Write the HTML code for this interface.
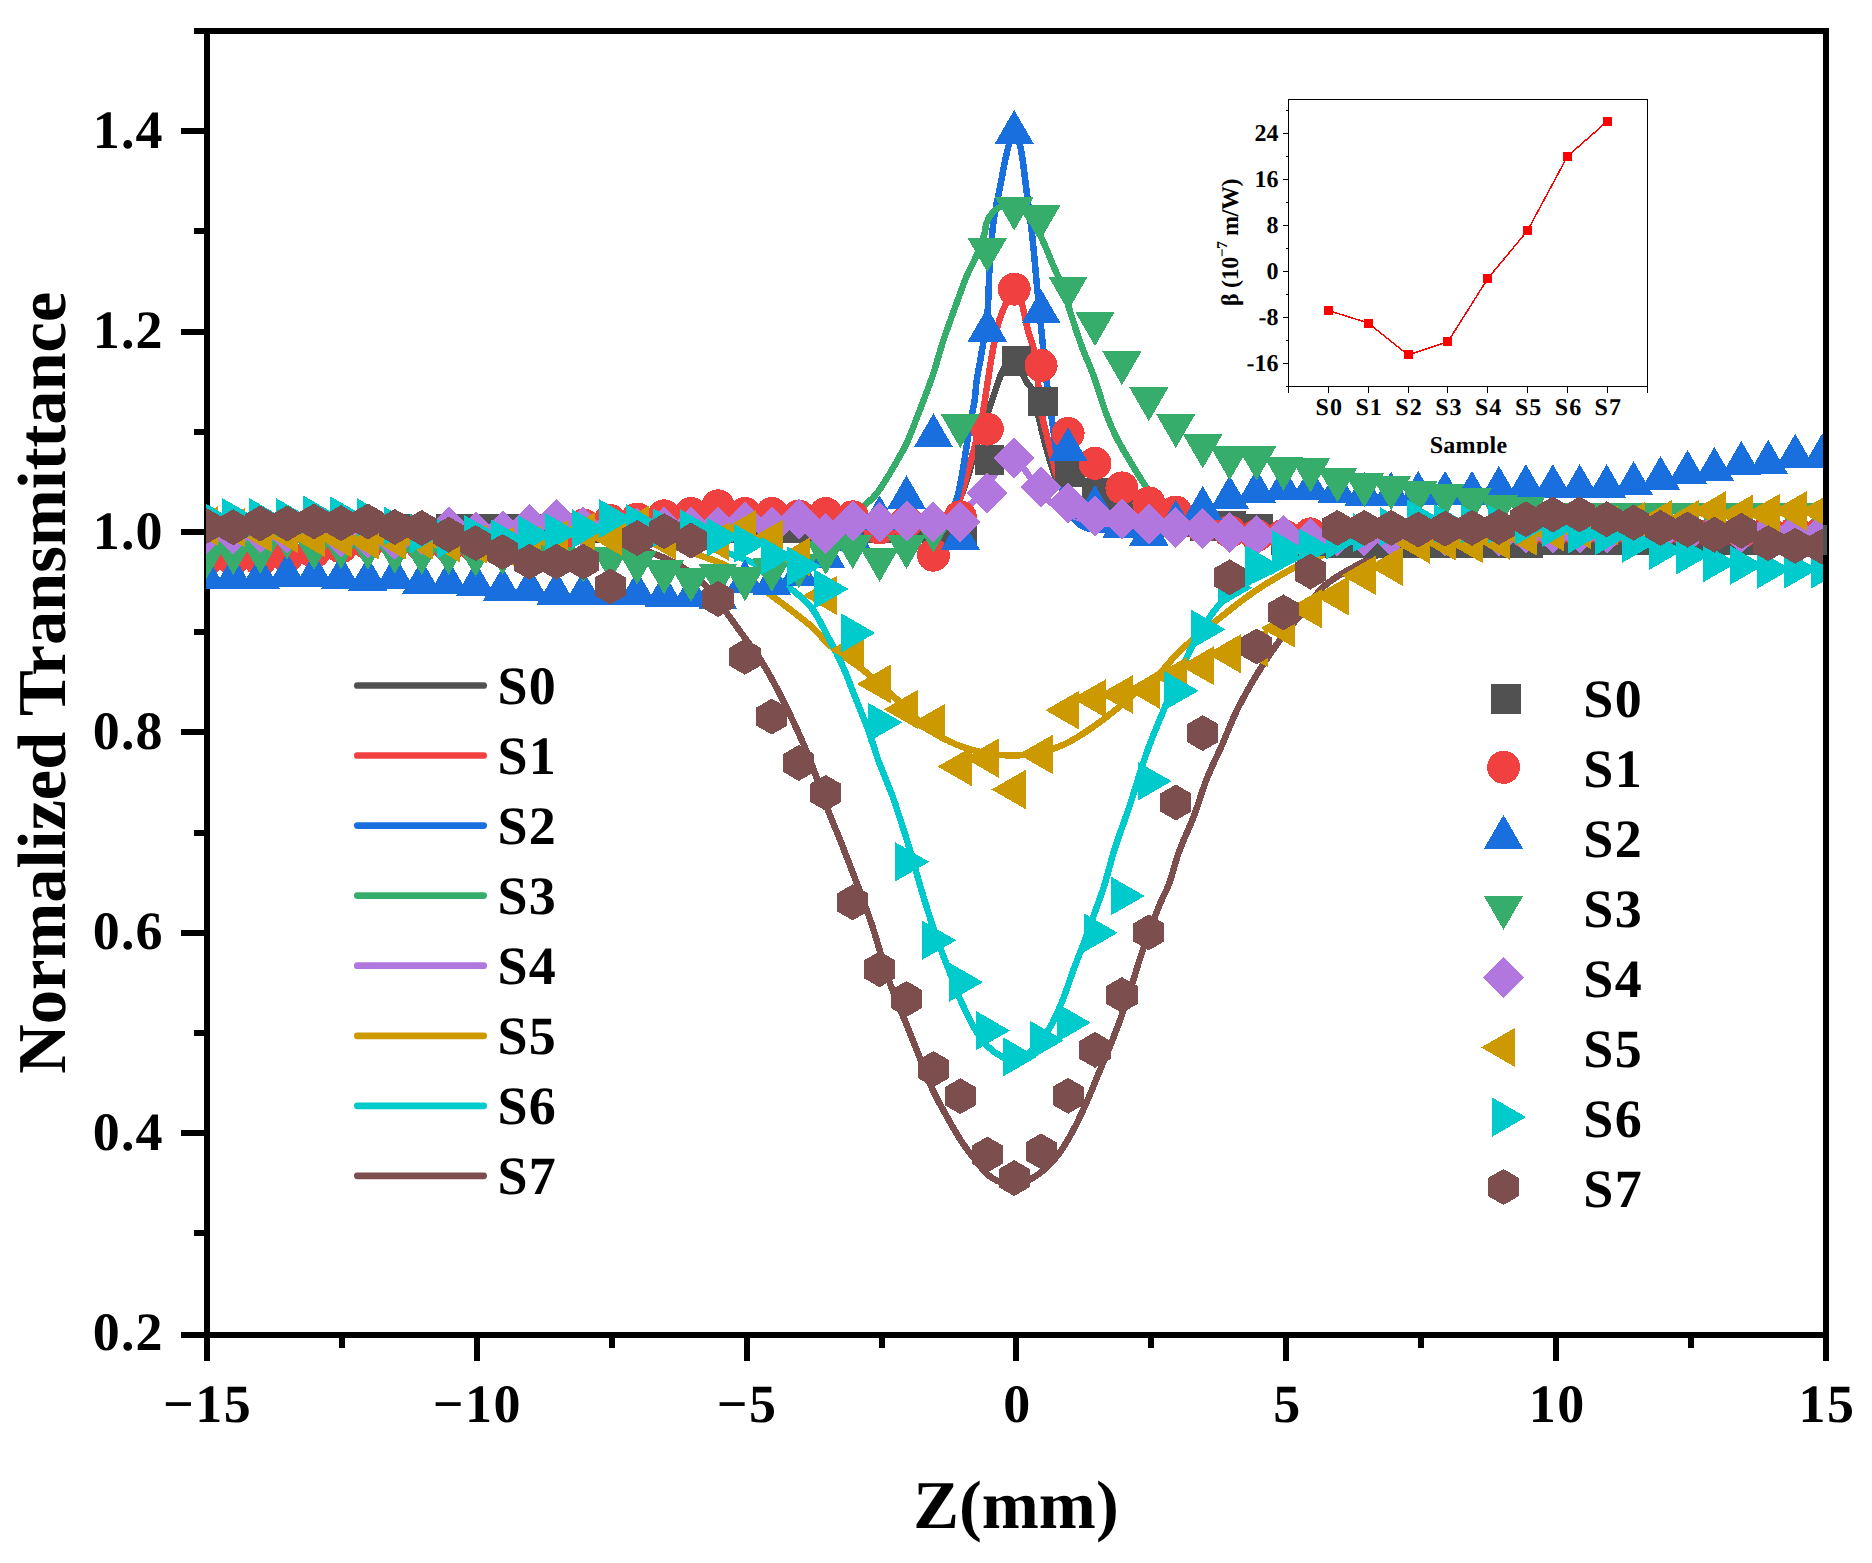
<!DOCTYPE html><html><head><meta charset="utf-8"><title>Z-scan</title>
<style>html,body{margin:0;padding:0;background:#fff}svg{display:block}text{font-family:"Liberation Serif","Times New Roman",serif;font-weight:bold;fill:#000}</style></head><body>
<svg width="1872" height="1563" viewBox="0 0 1872 1563" shape-rendering="crispEdges" text-rendering="geometricPrecision">
<rect width="1872" height="1563" fill="#fff"/>
<defs><clipPath id="cp"><rect x="205.9" y="31" width="1617" height="1304"/></clipPath><clipPath id="cs"><rect x="1400" y="425" width="140" height="28.6"/></clipPath></defs>
<g fill="#000" shape-rendering="crispEdges">
<rect x="203.5" y="28" width="6.5" height="1332.5"/>
<rect x="1823" y="28" width="6" height="1332.5"/>
<rect x="194" y="28" width="1635" height="6"/>
<rect x="181" y="1332" width="1648" height="6"/>
<rect x="194" y="1230.4" width="11" height="6"/>
<rect x="181" y="1130.2" width="24" height="6"/>
<rect x="194" y="1030.0" width="11" height="6"/>
<rect x="181" y="929.8" width="24" height="6"/>
<rect x="194" y="829.6" width="11" height="6"/>
<rect x="181" y="729.4" width="24" height="6"/>
<rect x="194" y="629.2" width="11" height="6"/>
<rect x="181" y="529.0" width="24" height="6"/>
<rect x="194" y="428.8" width="11" height="6"/>
<rect x="181" y="328.6" width="24" height="6"/>
<rect x="194" y="228.4" width="11" height="6"/>
<rect x="181" y="128.2" width="24" height="6"/>
<rect x="338.8" y="1335" width="6" height="12.8"/>
<rect x="473.7" y="1335" width="6" height="25.5"/>
<rect x="608.6" y="1335" width="6" height="12.8"/>
<rect x="743.5" y="1335" width="6" height="25.5"/>
<rect x="878.5" y="1335" width="6" height="12.8"/>
<rect x="1013.4" y="1335" width="6" height="25.5"/>
<rect x="1148.3" y="1335" width="6" height="12.8"/>
<rect x="1283.2" y="1335" width="6" height="25.5"/>
<rect x="1418.2" y="1335" width="6" height="12.8"/>
<rect x="1553.1" y="1335" width="6" height="25.5"/>
<rect x="1688.0" y="1335" width="6" height="12.8"/>
</g>
<g font-size="54" text-anchor="end" letter-spacing="1.1">
<text x="163.6" y="1350.1">0.2</text>
<text x="163.6" y="1149.7">0.4</text>
<text x="163.6" y="949.3">0.6</text>
<text x="163.6" y="748.9">0.8</text>
<text x="163.6" y="548.5">1.0</text>
<text x="163.6" y="348.1">1.2</text>
<text x="163.6" y="147.7">1.4</text>
</g>
<g font-size="54" text-anchor="middle" letter-spacing="1.5">
<text x="207.6" y="1421.8">−15</text>
<text x="477.4" y="1421.8">−10</text>
<text x="747.2" y="1421.8">−5</text>
<text x="1017.6" y="1421.8">0</text>
<text x="1287.5" y="1421.8">5</text>
<text x="1557.3" y="1421.8">10</text>
<text x="1827.1" y="1421.8">15</text>
</g>
<text font-size="68.5" text-anchor="middle" x="1016" y="1528" textLength="205.5" lengthAdjust="spacing">Z(mm)</text>
<text font-size="68.5" text-anchor="middle" transform="translate(65.3 682.7) rotate(-90)" textLength="782" lengthAdjust="spacing">Normalized Transmittance</text>
<g clip-path="url(#cp)">
<g fill="none" stroke-width="6.5" stroke-linejoin="round" stroke-linecap="round" shape-rendering="crispEdges">
<path stroke="#515151" d="M206.0 528.5C437.3 528.5 668.7 529.0 900.0 528.5C913.3 528.5 927.7 530.0 940.0 527.0C945.0 525.8 948.9 520.3 952.0 516.0C955.5 511.2 957.4 505.3 959.7 499.7C962.8 491.9 965.7 484.0 968.2 476.0C971.4 465.4 973.5 454.5 976.8 444.0C980.6 431.8 985.4 419.9 989.6 407.8C991.8 401.4 993.8 394.9 996.0 388.5C998.0 382.8 999.7 376.8 1002.4 371.4C1004.1 368.0 1006.2 364.3 1009.0 362.0C1010.8 360.5 1014.5 358.8 1016.0 360.0C1018.7 362.2 1019.7 368.0 1021.6 372.0C1023.0 375.0 1024.3 378.1 1026.0 381.0C1027.9 384.1 1031.1 386.6 1032.3 390.0C1035.3 398.6 1036.6 408.0 1038.7 417.0C1040.8 426.0 1042.7 435.1 1045.1 444.0C1047.0 451.2 1049.1 458.4 1051.5 465.5C1053.4 471.1 1054.6 477.3 1058.0 482.0C1064.1 490.5 1071.6 498.8 1080.0 505.0C1088.9 511.5 1099.4 516.7 1110.0 520.0C1122.8 524.0 1136.5 526.0 1150.0 527.0C1199.9 530.7 1250.0 531.2 1300.0 534.0C1333.4 535.9 1366.6 540.6 1400.0 541.0C1541.9 542.6 1684.0 540.3 1826.0 540.0"/>
<path stroke="#F14040" d="M206.0 528.0C437.3 528.0 668.7 528.6 900.0 528.0C913.3 528.0 927.7 529.1 940.0 526.0C945.0 524.7 948.8 519.3 952.0 515.0C955.5 510.3 958.0 504.6 960.0 499.0C963.4 489.6 965.6 479.7 968.2 470.0C972.6 454.0 977.4 438.1 981.0 422.0C983.8 409.5 985.3 396.7 987.4 384.0C988.9 374.8 990.1 365.6 991.7 356.4C993.6 345.7 995.4 334.9 998.1 324.4C999.5 318.8 1001.8 313.4 1004.0 308.0C1005.4 304.6 1006.9 301.2 1008.8 298.0C1010.5 295.2 1012.9 289.3 1014.6 290.0C1017.2 291.0 1020.1 298.4 1021.6 303.0C1024.5 312.0 1025.6 321.6 1028.0 330.8C1029.9 337.9 1033.1 344.8 1034.4 352.0C1036.6 364.0 1037.2 376.3 1038.7 388.5C1040.0 399.2 1041.2 409.9 1043.0 420.5C1043.7 424.6 1045.2 428.6 1046.2 432.7C1048.0 440.1 1049.6 447.5 1051.5 454.8C1054.2 464.9 1055.8 475.5 1060.0 485.0C1063.7 493.3 1068.4 502.1 1075.0 508.0C1081.8 514.1 1091.0 518.7 1100.0 521.0C1116.0 525.1 1133.2 526.8 1150.0 527.0C1375.2 529.5 1600.7 528.3 1826.0 529.0"/>
<path stroke="#1A6FDF" d="M206.0 528.0C437.3 528.0 668.7 528.6 900.0 528.0C913.3 528.0 927.8 529.2 940.0 526.0C944.5 524.8 947.4 519.1 950.0 515.0C952.9 510.4 954.9 505.0 956.5 499.7C958.8 492.0 960.4 484.1 961.8 476.2C965.0 458.4 967.3 440.5 970.3 422.7C971.6 415.3 973.5 407.9 974.6 400.5C975.6 393.7 975.8 386.8 976.8 380.0C977.9 372.1 979.7 364.3 981.0 356.4C983.3 342.2 986.0 328.0 987.4 313.7C988.9 298.1 988.5 282.3 989.6 266.7C990.7 251.0 991.7 235.3 993.8 219.7C995.3 208.2 998.1 196.9 1000.3 185.5C1002.4 174.8 1004.3 164.0 1006.7 153.4C1007.9 148.2 1009.1 142.9 1011.0 138.0C1011.7 136.1 1013.4 133.0 1014.6 133.0C1015.8 133.0 1017.4 136.1 1018.0 138.0C1019.7 142.9 1020.7 148.2 1021.6 153.4C1023.4 164.0 1024.5 174.8 1025.9 185.5C1028.1 202.6 1030.4 219.7 1032.3 236.8C1034.3 255.3 1035.8 273.8 1037.6 292.3C1039.0 306.5 1040.5 320.8 1041.9 335.0C1043.3 349.3 1044.6 363.6 1046.2 377.8C1047.4 388.7 1049.0 399.6 1050.5 410.5C1051.5 417.9 1052.7 425.3 1053.7 432.7C1055.2 443.6 1056.2 454.6 1058.0 465.5C1059.6 475.4 1061.0 485.5 1064.0 495.0C1066.7 503.6 1069.7 513.1 1075.0 520.0C1078.4 524.4 1084.5 527.9 1090.0 529.0C1099.5 530.9 1110.0 529.1 1120.0 529.0C1146.7 528.8 1173.3 528.0 1200.0 528.0C1408.7 527.7 1617.3 528.0 1826.0 528.0"/>
<path stroke="#37AD6B" d="M206.0 531.0C370.7 531.0 535.3 531.8 700.0 531.0C733.3 530.8 766.8 530.6 800.0 528.0C813.5 526.9 827.3 524.4 840.0 520.0C848.5 517.1 856.3 511.4 863.5 506.0C869.1 501.8 874.5 496.8 878.5 491.1C888.0 477.6 896.0 462.9 904.1 448.4C906.7 443.8 908.6 438.9 910.5 434.0C917.8 415.4 925.3 396.7 931.9 377.8C936.3 365.4 939.3 352.5 943.5 340.0C948.2 326.0 953.4 312.1 958.4 298.2C961.0 291.0 963.5 283.7 966.5 276.6C969.1 270.3 972.7 264.5 975.3 258.2C978.7 250.1 981.9 241.9 984.5 233.6C985.6 230.2 985.2 226.2 986.5 222.9C988.0 219.0 990.2 215.0 993.0 212.0C995.5 209.3 999.0 207.3 1002.4 205.8C1006.2 204.1 1011.1 201.5 1014.6 202.6C1018.9 204.0 1022.8 209.1 1025.9 213.2C1031.5 220.5 1036.6 228.6 1040.9 236.8C1045.9 246.4 1049.4 256.8 1053.7 266.7C1056.5 273.1 1059.8 279.3 1062.2 285.9C1065.5 295.0 1067.8 304.5 1070.8 313.7C1074.3 324.4 1077.6 335.1 1081.5 345.7C1085.5 356.5 1090.4 367.0 1094.3 377.8C1098.9 390.5 1102.3 403.6 1107.1 416.2C1110.2 424.3 1113.7 432.3 1117.8 440.0C1124.3 452.3 1131.7 464.2 1139.0 476.0C1142.4 481.5 1145.9 487.0 1150.0 492.0C1154.6 497.7 1159.1 503.9 1165.0 508.0C1172.4 513.2 1181.2 517.4 1190.0 520.0C1202.9 523.8 1216.5 525.8 1230.0 527.0C1253.2 529.1 1276.6 529.8 1300.0 530.0C1475.3 531.2 1650.7 530.7 1826.0 531.0"/>
<path stroke="#B177DE" d="M206.0 531.0C370.7 531.0 535.3 531.2 700.0 531.0C726.7 531.0 753.3 530.5 780.0 530.1C796.7 529.9 813.3 529.7 830.0 529.3C843.3 529.0 856.7 528.6 870.0 528.0C880.0 527.5 890.0 526.9 900.0 526.0C906.7 525.4 913.4 524.6 920.0 523.6C925.0 522.8 930.1 521.9 935.0 520.7C940.1 519.4 945.1 518.0 950.0 516.1C954.1 514.4 958.2 512.5 962.0 510.1C966.2 507.5 970.3 504.4 974.0 501.0C977.7 497.6 980.9 493.7 984.0 489.8C987.6 485.3 990.6 480.4 994.0 475.7C996.6 472.1 999.0 468.1 1002.0 464.9C1004.0 462.7 1006.4 460.5 1009.0 459.4C1010.6 458.8 1012.8 459.0 1014.4 459.6C1016.5 460.4 1018.4 462.1 1020.0 463.8C1022.6 466.5 1024.8 469.7 1027.0 472.8C1029.8 476.6 1032.2 480.6 1035.0 484.4C1038.2 488.7 1041.4 493.0 1045.0 496.9C1048.1 500.2 1051.4 503.3 1055.0 506.0C1058.7 508.8 1062.8 511.3 1067.0 513.4C1070.8 515.3 1074.9 516.9 1079.0 518.2C1083.9 519.8 1089.0 521.0 1094.0 522.0C1099.0 523.1 1104.0 523.8 1109.0 524.4C1115.6 525.3 1122.3 526.0 1129.0 526.5C1139.0 527.3 1149.0 527.8 1159.0 528.2C1172.3 528.8 1185.7 529.2 1199.0 529.4C1215.7 529.8 1232.3 530.0 1249.0 530.2C1299.3 530.7 1349.7 531.4 1400.0 531.5C1542.0 531.8 1684.0 531.5 1826.0 531.5"/>
<path stroke="#CC9900" d="M206.0 531.0C304.0 531.3 402.0 530.8 500.0 532.0C533.4 532.4 566.7 533.7 600.0 536.0C620.1 537.4 640.3 539.3 660.0 543.0C672.6 545.4 684.7 550.0 696.8 554.3C708.3 558.4 720.2 562.1 730.9 568.0C745.5 576.1 758.8 586.7 772.5 596.3C778.3 600.4 784.0 604.7 789.6 609.1C796.8 614.7 804.2 620.1 811.0 626.2C818.5 632.9 824.6 641.1 832.3 647.6C842.4 656.1 854.1 662.8 864.4 671.1C875.4 679.9 886.0 689.4 896.4 698.9C903.8 705.7 910.0 713.8 917.8 720.0C927.8 728.0 938.4 735.9 949.8 741.6C959.8 746.6 970.9 749.9 981.9 752.3C992.3 754.6 1003.3 755.5 1014.0 755.5C1022.7 755.5 1031.5 754.2 1040.0 752.3C1048.7 750.3 1057.5 747.7 1065.6 743.8C1075.3 739.1 1084.5 732.9 1093.4 726.7C1103.0 720.1 1112.2 712.7 1121.2 705.3C1128.6 699.2 1135.2 692.1 1142.6 686.0C1148.1 681.4 1154.5 678.0 1159.7 673.2C1165.9 667.4 1170.8 660.2 1176.8 654.0C1180.8 649.9 1185.2 646.0 1189.6 642.3C1198.7 634.6 1208.0 627.2 1217.4 619.8C1229.4 610.4 1241.1 600.6 1253.7 592.0C1266.8 583.1 1280.4 575.0 1294.3 567.5C1303.4 562.6 1312.9 558.3 1322.6 555.0C1334.8 550.8 1347.3 547.3 1360.0 545.0C1379.8 541.3 1399.9 538.7 1420.0 537.0C1446.6 534.7 1473.3 533.5 1500.0 533.0C1608.6 531.1 1717.3 531.0 1826.0 530.0"/>
<path stroke="#00CBCC" d="M206.0 530.0C304.0 530.3 402.0 529.6 500.0 531.0C546.7 531.6 593.5 532.7 640.0 536.0C660.1 537.4 680.5 540.1 700.0 545.0C720.5 550.1 741.1 557.0 760.0 566.0C770.9 571.2 780.1 580.1 789.6 587.8C797.0 593.8 805.1 599.6 810.9 607.0C817.9 615.9 822.6 626.8 828.0 636.9C833.3 646.7 838.4 656.6 843.0 666.8C847.7 677.3 851.5 688.2 855.8 698.9C860.1 709.6 864.6 720.1 868.6 730.9C872.5 741.5 875.4 752.4 879.3 763.0C883.3 773.8 888.1 784.2 892.1 795.0C896.0 805.6 899.3 816.4 902.8 827.1C905.8 836.3 908.6 845.6 911.4 854.9C913.9 863.2 916.0 871.7 918.5 880.0C921.6 890.7 924.8 901.4 928.2 912.0C931.6 922.7 935.1 933.5 938.9 944.1C942.2 953.5 946.0 962.7 949.6 972.0C953.2 981.2 956.3 990.7 960.3 999.7C964.8 1009.9 969.6 1020.0 975.2 1029.6C978.8 1035.7 983.0 1041.7 988.0 1046.7C992.3 1051.0 997.6 1054.6 1003.0 1057.4C1006.4 1059.2 1010.6 1060.7 1014.3 1060.6C1017.9 1060.5 1022.0 1059.0 1025.0 1057.0C1028.9 1054.4 1031.9 1050.4 1035.0 1046.7C1040.2 1040.5 1045.9 1034.4 1050.0 1027.4C1055.1 1018.7 1059.0 1009.1 1062.8 999.7C1066.8 989.9 1069.8 979.7 1073.5 969.7C1076.9 960.4 1080.8 951.3 1084.2 942.0C1087.9 932.0 1091.3 922.0 1094.9 912.0C1097.9 903.5 1101.3 895.0 1104.0 886.4C1107.9 873.9 1110.8 861.0 1114.8 848.5C1119.4 834.1 1124.9 820.0 1129.7 805.7C1135.6 788.0 1140.5 769.9 1146.8 752.3C1151.9 737.9 1158.0 723.7 1163.9 709.6C1170.8 693.1 1177.6 676.5 1185.3 660.4C1190.5 649.5 1196.0 638.6 1202.4 628.4C1208.1 619.2 1214.2 609.9 1221.6 602.0C1227.8 595.4 1235.3 589.8 1243.0 585.0C1251.9 579.5 1261.9 575.8 1271.3 571.0C1280.4 566.4 1289.1 560.4 1298.6 556.8C1312.0 551.7 1326.0 547.7 1340.0 545.0C1359.8 541.1 1379.9 538.8 1400.0 537.0C1433.2 534.1 1466.6 531.6 1500.0 531.0C1608.6 529.0 1717.3 529.7 1826.0 529.0"/>
<path stroke="#7D4E4E" d="M206.0 528.0C270.7 528.2 335.3 528.1 400.0 528.5C433.3 528.7 466.7 528.1 500.0 530.0C533.4 531.9 567.0 534.6 600.0 540.0C620.4 543.3 641.0 548.4 660.0 556.0C674.3 561.7 688.3 570.1 700.0 580.0C710.1 588.6 717.2 600.7 725.5 611.3C731.4 618.9 736.9 627.0 742.6 634.8C748.3 642.6 754.5 650.2 759.7 658.3C765.9 668.0 771.4 678.1 776.8 688.2C781.3 696.6 785.5 705.2 789.6 713.8C794.0 723.0 798.4 732.2 802.4 741.6C806.9 752.2 811.2 762.9 815.2 773.7C819.7 785.7 823.5 798.0 828.0 810.0C832.0 820.8 836.7 831.3 840.9 842.0C845.2 853.0 849.5 864.0 853.7 875.0C855.9 880.7 858.0 886.3 860.1 892.0C864.3 903.6 868.8 915.2 872.6 927.0C878.6 945.4 883.3 964.3 889.7 982.6C894.7 997.1 901.1 1011.1 906.8 1025.3C911.1 1036.0 915.4 1046.7 919.7 1057.4C924.0 1068.1 927.7 1079.0 932.5 1089.4C937.6 1100.4 943.7 1110.9 949.6 1121.5C953.6 1128.7 957.8 1135.9 962.4 1142.8C966.3 1148.7 970.8 1154.3 975.2 1159.9C979.3 1165.0 983.1 1170.6 988.0 1174.9C991.7 1178.1 996.3 1180.5 1000.9 1182.4C1005.1 1184.1 1009.9 1186.1 1014.3 1185.6C1019.9 1185.0 1025.6 1181.9 1030.8 1179.1C1036.1 1176.2 1041.3 1172.6 1045.7 1168.5C1051.2 1163.4 1056.4 1157.6 1060.7 1151.4C1066.3 1143.3 1071.0 1134.5 1075.6 1125.7C1080.3 1116.7 1084.4 1107.3 1088.5 1098.0C1092.2 1089.5 1095.5 1080.9 1099.1 1072.3C1102.6 1063.8 1106.4 1055.3 1109.8 1046.7C1113.5 1037.5 1117.2 1028.2 1120.5 1018.9C1124.3 1008.3 1127.7 997.5 1131.2 986.8C1134.9 975.4 1138.1 963.9 1141.9 952.6C1145.3 942.6 1148.9 932.6 1152.6 922.7C1155.3 915.6 1158.0 908.4 1161.0 901.4C1163.5 895.5 1166.8 890.0 1169.0 884.0C1172.8 873.5 1175.1 862.5 1178.9 852.0C1183.3 839.9 1189.2 828.4 1193.8 816.4C1198.5 804.1 1201.9 791.3 1206.7 779.0C1211.1 767.8 1216.7 757.0 1221.6 745.9C1226.7 734.3 1231.1 722.4 1236.6 711.0C1241.8 700.3 1247.7 689.9 1253.7 679.7C1259.1 670.6 1264.9 661.7 1270.8 653.0C1275.5 646.0 1280.5 639.2 1285.7 632.6C1292.6 623.9 1300.1 615.6 1307.1 607.0C1311.8 601.2 1315.7 594.6 1320.9 589.2C1325.0 584.9 1330.0 581.3 1335.0 578.0C1342.0 573.4 1349.4 569.4 1356.8 565.3C1361.5 562.7 1366.3 560.2 1371.2 558.0C1377.7 555.1 1384.2 552.0 1391.0 549.9C1403.8 546.0 1416.8 542.0 1430.0 540.0C1453.1 536.4 1476.6 534.4 1500.0 533.0C1533.3 531.0 1566.7 530.5 1600.0 530.0C1675.3 528.8 1750.7 528.7 1826.0 528.0"/>
</g>
<g fill="#515151">
<rect x="193.6" y="513.8" width="29.5" height="29.5"/>
<rect x="220.5" y="513.8" width="29.5" height="29.5"/>
<rect x="247.4" y="513.8" width="29.5" height="29.5"/>
<rect x="274.3" y="513.8" width="29.5" height="29.5"/>
<rect x="301.3" y="513.8" width="29.5" height="29.5"/>
<rect x="328.2" y="513.8" width="29.5" height="29.5"/>
<rect x="355.1" y="513.8" width="29.5" height="29.5"/>
<rect x="382.1" y="513.8" width="29.5" height="29.5"/>
<rect x="409.0" y="520.2" width="29.5" height="29.5"/>
<rect x="435.9" y="513.8" width="29.5" height="29.5"/>
<rect x="462.9" y="513.8" width="29.5" height="29.5"/>
<rect x="489.8" y="513.8" width="29.5" height="29.5"/>
<rect x="516.7" y="513.8" width="29.5" height="29.5"/>
<rect x="543.6" y="513.8" width="29.5" height="29.5"/>
<rect x="570.6" y="513.8" width="29.5" height="29.5"/>
<rect x="597.5" y="513.8" width="29.5" height="29.5"/>
<rect x="624.4" y="513.8" width="29.5" height="29.5"/>
<rect x="651.4" y="513.8" width="29.5" height="29.5"/>
<rect x="678.3" y="513.8" width="29.5" height="29.5"/>
<rect x="705.2" y="513.8" width="29.5" height="29.5"/>
<rect x="732.2" y="513.8" width="29.5" height="29.5"/>
<rect x="759.1" y="513.8" width="29.5" height="29.5"/>
<rect x="786.0" y="513.8" width="29.5" height="29.5"/>
<rect x="812.9" y="513.8" width="29.5" height="29.5"/>
<rect x="839.9" y="513.8" width="29.5" height="29.5"/>
<rect x="866.8" y="513.8" width="29.5" height="29.5"/>
<rect x="893.7" y="513.8" width="29.5" height="29.5"/>
<rect x="920.7" y="513.8" width="29.5" height="29.5"/>
<rect x="947.6" y="514.9" width="29.5" height="29.5"/>
<rect x="974.5" y="445.4" width="29.5" height="29.5"/>
<rect x="1001.5" y="346.4" width="29.5" height="29.5"/>
<rect x="1028.4" y="386.8" width="29.5" height="29.5"/>
<rect x="1055.3" y="457.1" width="29.5" height="29.5"/>
<rect x="1082.2" y="478.4" width="29.5" height="29.5"/>
<rect x="1109.2" y="495.2" width="29.5" height="29.5"/>
<rect x="1136.1" y="503.2" width="29.5" height="29.5"/>
<rect x="1163.0" y="507.2" width="29.5" height="29.5"/>
<rect x="1190.0" y="511.6" width="29.5" height="29.5"/>
<rect x="1216.9" y="511.0" width="29.5" height="29.5"/>
<rect x="1243.8" y="514.2" width="29.5" height="29.5"/>
<rect x="1270.8" y="525.2" width="29.5" height="29.5"/>
<rect x="1297.7" y="526.8" width="29.5" height="29.5"/>
<rect x="1324.6" y="528.8" width="29.5" height="29.5"/>
<rect x="1351.5" y="528.8" width="29.5" height="29.5"/>
<rect x="1378.5" y="528.8" width="29.5" height="29.5"/>
<rect x="1405.4" y="528.8" width="29.5" height="29.5"/>
<rect x="1432.3" y="528.8" width="29.5" height="29.5"/>
<rect x="1459.3" y="528.8" width="29.5" height="29.5"/>
<rect x="1486.2" y="528.8" width="29.5" height="29.5"/>
<rect x="1513.1" y="528.8" width="29.5" height="29.5"/>
<rect x="1540.1" y="525.2" width="29.5" height="29.5"/>
<rect x="1567.0" y="525.2" width="29.5" height="29.5"/>
<rect x="1593.9" y="525.2" width="29.5" height="29.5"/>
<rect x="1620.8" y="525.2" width="29.5" height="29.5"/>
<rect x="1647.8" y="525.2" width="29.5" height="29.5"/>
<rect x="1674.7" y="525.2" width="29.5" height="29.5"/>
<rect x="1701.6" y="525.2" width="29.5" height="29.5"/>
<rect x="1728.6" y="525.2" width="29.5" height="29.5"/>
<rect x="1755.5" y="525.2" width="29.5" height="29.5"/>
<rect x="1782.4" y="525.2" width="29.5" height="29.5"/>
<rect x="1809.3" y="525.2" width="29.5" height="29.5"/>
</g>
<g fill="#F14040">
<circle cx="206.3" cy="560.0" r="16.5"/>
<circle cx="233.2" cy="559.5" r="16.5"/>
<circle cx="260.2" cy="560.0" r="16.5"/>
<circle cx="287.1" cy="556.0" r="16.5"/>
<circle cx="314.0" cy="552.0" r="16.5"/>
<circle cx="341.0" cy="547.0" r="16.5"/>
<circle cx="367.9" cy="543.0" r="16.5"/>
<circle cx="394.8" cy="541.0" r="16.5"/>
<circle cx="421.7" cy="545.0" r="16.5"/>
<circle cx="448.7" cy="546.0" r="16.5"/>
<circle cx="475.6" cy="547.0" r="16.5"/>
<circle cx="502.5" cy="548.0" r="16.5"/>
<circle cx="529.5" cy="548.0" r="16.5"/>
<circle cx="556.4" cy="545.0" r="16.5"/>
<circle cx="583.3" cy="525.0" r="16.5"/>
<circle cx="610.2" cy="520.5" r="16.5"/>
<circle cx="637.2" cy="519.0" r="16.5"/>
<circle cx="664.1" cy="515.8" r="16.5"/>
<circle cx="691.0" cy="513.5" r="16.5"/>
<circle cx="718.0" cy="505.8" r="16.5"/>
<circle cx="744.9" cy="513.5" r="16.5"/>
<circle cx="771.8" cy="513.5" r="16.5"/>
<circle cx="798.8" cy="516.0" r="16.5"/>
<circle cx="825.7" cy="513.5" r="16.5"/>
<circle cx="852.6" cy="516.8" r="16.5"/>
<circle cx="879.6" cy="528.0" r="16.5"/>
<circle cx="906.5" cy="522.0" r="16.5"/>
<circle cx="933.4" cy="555.2" r="16.5"/>
<circle cx="960.3" cy="516.8" r="16.5"/>
<circle cx="987.3" cy="429.1" r="16.5"/>
<circle cx="1014.2" cy="289.1" r="16.5"/>
<circle cx="1041.1" cy="365.6" r="16.5"/>
<circle cx="1068.1" cy="433.4" r="16.5"/>
<circle cx="1095.0" cy="463.3" r="16.5"/>
<circle cx="1121.9" cy="487.9" r="16.5"/>
<circle cx="1148.9" cy="502.9" r="16.5"/>
<circle cx="1175.8" cy="512.0" r="16.5"/>
<circle cx="1202.7" cy="527.0" r="16.5"/>
<circle cx="1229.6" cy="531.5" r="16.5"/>
<circle cx="1256.6" cy="535.4" r="16.5"/>
<circle cx="1283.5" cy="535.4" r="16.5"/>
<circle cx="1310.4" cy="533.9" r="16.5"/>
<circle cx="1337.4" cy="532.0" r="16.5"/>
<circle cx="1364.3" cy="532.0" r="16.5"/>
<circle cx="1391.2" cy="532.0" r="16.5"/>
<circle cx="1418.2" cy="532.0" r="16.5"/>
<circle cx="1445.1" cy="532.0" r="16.5"/>
<circle cx="1472.0" cy="532.0" r="16.5"/>
<circle cx="1498.9" cy="532.0" r="16.5"/>
<circle cx="1525.9" cy="532.0" r="16.5"/>
<circle cx="1552.8" cy="532.0" r="16.5"/>
<circle cx="1579.7" cy="532.0" r="16.5"/>
<circle cx="1606.7" cy="532.0" r="16.5"/>
<circle cx="1633.6" cy="532.0" r="16.5"/>
<circle cx="1660.5" cy="532.0" r="16.5"/>
<circle cx="1687.5" cy="532.0" r="16.5"/>
<circle cx="1714.4" cy="532.0" r="16.5"/>
<circle cx="1741.3" cy="532.0" r="16.5"/>
<circle cx="1768.2" cy="532.0" r="16.5"/>
<circle cx="1795.2" cy="532.0" r="16.5"/>
<circle cx="1822.1" cy="532.0" r="16.5"/>
</g>
<g fill="#1A6FDF">
<polygon points="206.3,554.6 186.7,588.6 226.0,588.6"/>
<polygon points="233.2,554.6 213.6,588.6 252.9,588.6"/>
<polygon points="260.2,554.6 240.5,588.6 279.8,588.6"/>
<polygon points="287.1,552.7 267.4,586.8 306.7,586.8"/>
<polygon points="314.0,552.7 294.4,586.8 333.7,586.8"/>
<polygon points="341.0,554.6 321.3,588.6 360.6,588.6"/>
<polygon points="367.9,556.5 348.2,590.6 387.5,590.6"/>
<polygon points="394.8,554.6 375.2,588.6 414.5,588.6"/>
<polygon points="421.7,559.7 402.1,593.8 441.4,593.8"/>
<polygon points="448.7,559.7 429.0,593.8 468.3,593.8"/>
<polygon points="475.6,561.6 456.0,595.6 495.2,595.6"/>
<polygon points="502.5,566.8 482.9,600.9 522.2,600.9"/>
<polygon points="529.5,566.8 509.8,600.9 549.1,600.9"/>
<polygon points="556.4,570.6 536.7,604.6 576.0,604.6"/>
<polygon points="583.3,570.6 563.7,604.6 603.0,604.6"/>
<polygon points="610.2,570.6 590.6,604.6 629.9,604.6"/>
<polygon points="637.2,570.6 617.5,604.6 656.8,604.6"/>
<polygon points="664.1,572.5 644.5,606.6 683.8,606.6"/>
<polygon points="691.0,573.3 671.4,607.4 710.7,607.4"/>
<polygon points="718.0,575.3 698.3,609.4 737.6,609.4"/>
<polygon points="744.9,559.3 725.3,593.4 764.6,593.4"/>
<polygon points="771.8,561.3 752.2,595.4 791.5,595.4"/>
<polygon points="798.8,551.9 779.1,586.0 818.4,586.0"/>
<polygon points="825.7,534.0 806.0,568.1 845.3,568.1"/>
<polygon points="852.6,517.3 833.0,551.4 872.3,551.4"/>
<polygon points="879.6,495.4 859.9,529.5 899.2,529.5"/>
<polygon points="906.5,475.3 886.8,509.4 926.1,509.4"/>
<polygon points="933.4,413.3 913.8,447.4 953.1,447.4"/>
<polygon points="960.3,515.9 940.7,550.0 980.0,550.0"/>
<polygon points="987.3,307.5 967.6,341.6 1006.9,341.6"/>
<polygon points="1014.2,109.9 994.6,143.9 1033.9,143.9"/>
<polygon points="1041.1,289.3 1021.5,323.4 1060.8,323.4"/>
<polygon points="1068.1,427.2 1048.4,461.2 1087.7,461.2"/>
<polygon points="1095.0,484.7 1075.3,518.8 1114.6,518.8"/>
<polygon points="1121.9,504.1 1102.3,538.1 1141.6,538.1"/>
<polygon points="1148.9,511.6 1129.2,545.6 1168.5,545.6"/>
<polygon points="1175.8,499.7 1156.1,533.8 1195.4,533.8"/>
<polygon points="1202.7,485.8 1183.1,519.9 1222.4,519.9"/>
<polygon points="1229.6,475.3 1210.0,509.4 1249.3,509.4"/>
<polygon points="1256.6,468.9 1236.9,503.0 1276.2,503.0"/>
<polygon points="1283.5,465.8 1263.8,499.9 1303.2,499.9"/>
<polygon points="1310.4,465.8 1290.8,499.9 1330.1,499.9"/>
<polygon points="1337.4,468.6 1317.7,502.7 1357.0,502.7"/>
<polygon points="1364.3,471.5 1344.6,505.6 1383.9,505.6"/>
<polygon points="1391.2,471.5 1371.6,505.6 1410.9,505.6"/>
<polygon points="1418.2,470.8 1398.5,504.9 1437.8,504.9"/>
<polygon points="1445.1,470.8 1425.4,504.9 1464.7,504.9"/>
<polygon points="1472.0,470.8 1452.4,504.9 1491.7,504.9"/>
<polygon points="1498.9,465.8 1479.3,499.9 1518.6,499.9"/>
<polygon points="1525.9,464.1 1506.2,498.2 1545.5,498.2"/>
<polygon points="1552.8,464.1 1533.2,498.2 1572.5,498.2"/>
<polygon points="1579.7,464.1 1560.1,498.2 1599.4,498.2"/>
<polygon points="1606.7,464.1 1587.0,498.2 1626.3,498.2"/>
<polygon points="1633.6,461.1 1613.9,495.2 1653.2,495.2"/>
<polygon points="1660.5,455.9 1640.9,490.0 1680.2,490.0"/>
<polygon points="1687.5,449.9 1667.8,484.0 1707.1,484.0"/>
<polygon points="1714.4,446.9 1694.7,481.0 1734.0,481.0"/>
<polygon points="1741.3,440.9 1721.7,475.0 1761.0,475.0"/>
<polygon points="1768.2,439.7 1748.6,473.8 1787.9,473.8"/>
<polygon points="1795.2,433.7 1775.5,467.8 1814.8,467.8"/>
<polygon points="1822.1,433.7 1802.4,467.8 1841.8,467.8"/>
</g>
<g fill="#37AD6B">
<polygon points="206.3,579.0 186.7,544.9 226.0,544.9"/>
<polygon points="233.2,575.1 213.6,541.0 252.9,541.0"/>
<polygon points="260.2,573.8 240.5,539.8 279.8,539.8"/>
<polygon points="287.1,559.7 267.4,525.6 306.7,525.6"/>
<polygon points="314.0,570.0 294.4,535.9 333.7,535.9"/>
<polygon points="341.0,569.4 321.3,535.4 360.6,535.4"/>
<polygon points="367.9,570.0 348.2,535.9 387.5,535.9"/>
<polygon points="394.8,573.8 375.2,539.8 414.5,539.8"/>
<polygon points="421.7,575.1 402.1,541.0 441.4,541.0"/>
<polygon points="448.7,575.1 429.0,541.0 468.3,541.0"/>
<polygon points="475.6,577.0 456.0,542.9 495.2,542.9"/>
<polygon points="502.5,575.1 482.9,541.0 522.2,541.0"/>
<polygon points="529.5,578.7 509.8,544.6 549.1,544.6"/>
<polygon points="556.4,580.7 536.7,546.6 576.0,546.6"/>
<polygon points="583.3,582.8 563.7,548.8 603.0,548.8"/>
<polygon points="610.2,581.0 590.6,546.9 629.9,546.9"/>
<polygon points="637.2,584.7 617.5,550.6 656.8,550.6"/>
<polygon points="664.1,594.4 644.5,560.4 683.8,560.4"/>
<polygon points="691.0,602.1 671.4,568.0 710.7,568.0"/>
<polygon points="718.0,597.7 698.3,563.6 737.6,563.6"/>
<polygon points="744.9,601.3 725.3,567.2 764.6,567.2"/>
<polygon points="771.8,591.9 752.2,557.9 791.5,557.9"/>
<polygon points="798.8,588.5 779.1,554.4 818.4,554.4"/>
<polygon points="825.7,574.7 806.0,540.6 845.3,540.6"/>
<polygon points="852.6,569.1 833.0,535.0 872.3,535.0"/>
<polygon points="879.6,581.9 859.9,547.9 899.2,547.9"/>
<polygon points="906.5,569.1 886.8,535.0 926.1,535.0"/>
<polygon points="933.4,552.7 913.8,518.6 953.1,518.6"/>
<polygon points="960.3,448.2 940.7,414.1 980.0,414.1"/>
<polygon points="987.3,272.2 967.6,238.2 1006.9,238.2"/>
<polygon points="1014.2,230.6 994.6,196.6 1033.9,196.6"/>
<polygon points="1041.1,238.7 1021.5,204.7 1060.8,204.7"/>
<polygon points="1068.1,310.7 1048.4,276.6 1087.7,276.6"/>
<polygon points="1095.0,346.2 1075.3,312.1 1114.6,312.1"/>
<polygon points="1121.9,385.3 1102.3,351.2 1141.6,351.2"/>
<polygon points="1148.9,421.3 1129.2,387.2 1168.5,387.2"/>
<polygon points="1175.8,448.1 1156.1,414.0 1195.4,414.0"/>
<polygon points="1202.7,468.5 1183.1,434.4 1222.4,434.4"/>
<polygon points="1229.6,480.3 1210.0,446.2 1249.3,446.2"/>
<polygon points="1256.6,480.5 1236.9,446.4 1276.2,446.4"/>
<polygon points="1283.5,490.7 1263.8,456.6 1303.2,456.6"/>
<polygon points="1310.4,492.5 1290.8,458.4 1330.1,458.4"/>
<polygon points="1337.4,502.4 1317.7,468.3 1357.0,468.3"/>
<polygon points="1364.3,507.5 1344.6,473.4 1383.9,473.4"/>
<polygon points="1391.2,510.4 1371.6,476.3 1410.9,476.3"/>
<polygon points="1418.2,515.0 1398.5,480.9 1437.8,480.9"/>
<polygon points="1445.1,517.6 1425.4,483.5 1464.7,483.5"/>
<polygon points="1472.0,522.4 1452.4,488.3 1491.7,488.3"/>
<polygon points="1498.9,528.7 1479.3,494.6 1518.6,494.6"/>
<polygon points="1525.9,530.7 1506.2,496.6 1545.5,496.6"/>
<polygon points="1552.8,536.7 1533.2,502.6 1572.5,502.6"/>
<polygon points="1579.7,536.7 1560.1,502.6 1599.4,502.6"/>
<polygon points="1606.7,536.7 1587.0,502.6 1626.3,502.6"/>
<polygon points="1633.6,536.7 1613.9,502.6 1653.2,502.6"/>
<polygon points="1660.5,536.7 1640.9,502.6 1680.2,502.6"/>
<polygon points="1687.5,536.7 1667.8,502.6 1707.1,502.6"/>
<polygon points="1714.4,536.7 1694.7,502.6 1734.0,502.6"/>
<polygon points="1741.3,536.7 1721.7,502.6 1761.0,502.6"/>
<polygon points="1768.2,536.7 1748.6,502.6 1787.9,502.6"/>
<polygon points="1795.2,536.7 1775.5,502.6 1814.8,502.6"/>
<polygon points="1822.1,536.7 1802.4,502.6 1841.8,502.6"/>
</g>
<g fill="#B177DE">
<polygon points="206.3,513.5 226.8,534.0 206.3,554.5 185.8,534.0"/>
<polygon points="233.2,513.5 253.7,534.0 233.2,554.5 212.7,534.0"/>
<polygon points="260.2,512.2 280.7,532.7 260.2,553.2 239.7,532.7"/>
<polygon points="287.1,512.2 307.6,532.7 287.1,553.2 266.6,532.7"/>
<polygon points="314.0,509.5 334.5,530.0 314.0,550.5 293.5,530.0"/>
<polygon points="341.0,516.7 361.5,537.2 341.0,557.7 320.5,537.2"/>
<polygon points="367.9,517.5 388.4,538.0 367.9,558.5 347.4,538.0"/>
<polygon points="394.8,519.2 415.3,539.7 394.8,560.2 374.3,539.7"/>
<polygon points="421.7,514.5 442.2,535.0 421.7,555.5 401.2,535.0"/>
<polygon points="448.7,506.7 469.2,527.2 448.7,547.7 428.2,527.2"/>
<polygon points="475.6,511.5 496.1,532.0 475.6,552.5 455.1,532.0"/>
<polygon points="502.5,510.5 523.0,531.0 502.5,551.5 482.0,531.0"/>
<polygon points="529.5,504.4 550.0,524.9 529.5,545.4 509.0,524.9"/>
<polygon points="556.4,498.7 576.9,519.2 556.4,539.7 535.9,519.2"/>
<polygon points="583.3,506.7 603.8,527.2 583.3,547.7 562.8,527.2"/>
<polygon points="610.2,508.3 630.8,528.8 610.2,549.3 589.8,528.8"/>
<polygon points="637.2,507.3 657.7,527.8 637.2,548.3 616.7,527.8"/>
<polygon points="664.1,506.5 684.6,527.0 664.1,547.5 643.6,527.0"/>
<polygon points="691.0,506.5 711.5,527.0 691.0,547.5 670.5,527.0"/>
<polygon points="718.0,506.5 738.5,527.0 718.0,547.5 697.5,527.0"/>
<polygon points="744.9,501.3 765.4,521.8 744.9,542.3 724.4,521.8"/>
<polygon points="771.8,506.5 792.3,527.0 771.8,547.5 751.3,527.0"/>
<polygon points="798.8,498.7 819.3,519.2 798.8,539.7 778.3,519.2"/>
<polygon points="825.7,513.3 846.2,533.8 825.7,554.3 805.2,533.8"/>
<polygon points="852.6,500.5 873.1,521.0 852.6,541.5 832.1,521.0"/>
<polygon points="879.6,501.6 900.1,522.1 879.6,542.6 859.1,522.1"/>
<polygon points="906.5,500.5 927.0,521.0 906.5,541.5 886.0,521.0"/>
<polygon points="933.4,501.6 953.9,522.1 933.4,542.6 912.9,522.1"/>
<polygon points="960.3,501.6 980.8,522.1 960.3,542.6 939.8,522.1"/>
<polygon points="987.3,472.7 1007.8,493.2 987.3,513.7 966.8,493.2"/>
<polygon points="1014.2,437.5 1034.7,458.0 1014.2,478.5 993.7,458.0"/>
<polygon points="1041.1,466.3 1061.6,486.8 1041.1,507.3 1020.6,486.8"/>
<polygon points="1068.1,482.4 1088.6,502.9 1068.1,523.4 1047.6,502.9"/>
<polygon points="1095.0,495.2 1115.5,515.7 1095.0,536.2 1074.5,515.7"/>
<polygon points="1121.9,498.4 1142.4,518.9 1121.9,539.4 1101.4,518.9"/>
<polygon points="1148.9,503.7 1169.4,524.2 1148.9,544.7 1128.4,524.2"/>
<polygon points="1175.8,506.9 1196.3,527.4 1175.8,547.9 1155.3,527.4"/>
<polygon points="1202.7,508.0 1223.2,528.5 1202.7,549.0 1182.2,528.5"/>
<polygon points="1229.6,512.0 1250.1,532.5 1229.6,553.0 1209.1,532.5"/>
<polygon points="1256.6,515.2 1277.1,535.7 1256.6,556.2 1236.1,535.7"/>
<polygon points="1283.5,514.9 1304.0,535.4 1283.5,555.9 1263.0,535.4"/>
<polygon points="1310.4,517.8 1330.9,538.3 1310.4,558.8 1289.9,538.3"/>
<polygon points="1337.4,515.5 1357.9,536.0 1337.4,556.5 1316.9,536.0"/>
<polygon points="1364.3,515.5 1384.8,536.0 1364.3,556.5 1343.8,536.0"/>
<polygon points="1391.2,515.5 1411.7,536.0 1391.2,556.5 1370.7,536.0"/>
<polygon points="1418.2,515.5 1438.7,536.0 1418.2,556.5 1397.7,536.0"/>
<polygon points="1445.1,515.5 1465.6,536.0 1445.1,556.5 1424.6,536.0"/>
<polygon points="1472.0,515.5 1492.5,536.0 1472.0,556.5 1451.5,536.0"/>
<polygon points="1498.9,515.5 1519.4,536.0 1498.9,556.5 1478.4,536.0"/>
<polygon points="1525.9,512.5 1546.4,533.0 1525.9,553.5 1505.4,533.0"/>
<polygon points="1552.8,512.5 1573.3,533.0 1552.8,553.5 1532.3,533.0"/>
<polygon points="1579.7,512.5 1600.2,533.0 1579.7,553.5 1559.2,533.0"/>
<polygon points="1606.7,512.5 1627.2,533.0 1606.7,553.5 1586.2,533.0"/>
<polygon points="1633.6,512.5 1654.1,533.0 1633.6,553.5 1613.1,533.0"/>
<polygon points="1660.5,512.5 1681.0,533.0 1660.5,553.5 1640.0,533.0"/>
<polygon points="1687.5,512.5 1708.0,533.0 1687.5,553.5 1667.0,533.0"/>
<polygon points="1714.4,512.5 1734.9,533.0 1714.4,553.5 1693.9,533.0"/>
<polygon points="1741.3,512.5 1761.8,533.0 1741.3,553.5 1720.8,533.0"/>
<polygon points="1768.2,512.5 1788.7,533.0 1768.2,553.5 1747.7,533.0"/>
<polygon points="1795.2,512.5 1815.7,533.0 1795.2,553.5 1774.7,533.0"/>
<polygon points="1822.1,512.5 1842.6,533.0 1822.1,553.5 1801.6,533.0"/>
</g>
<g fill="#CC9900">
<polygon points="183.6,526.0 217.7,506.4 217.7,545.6"/>
<polygon points="210.5,527.5 244.6,507.9 244.6,547.1"/>
<polygon points="237.5,532.4 271.5,512.8 271.5,552.0"/>
<polygon points="264.4,533.7 298.4,514.1 298.4,553.4"/>
<polygon points="291.3,537.6 325.4,518.0 325.4,557.2"/>
<polygon points="318.3,538.2 352.3,518.6 352.3,557.9"/>
<polygon points="345.2,540.1 379.2,520.5 379.2,559.8"/>
<polygon points="372.1,540.1 406.2,520.5 406.2,559.8"/>
<polygon points="399.0,540.1 433.1,520.5 433.1,559.8"/>
<polygon points="426.0,542.7 460.0,523.1 460.0,562.4"/>
<polygon points="452.9,544.0 487.0,524.4 487.0,563.6"/>
<polygon points="479.8,546.5 513.9,526.9 513.9,566.1"/>
<polygon points="506.8,545.0 540.8,525.4 540.8,564.6"/>
<polygon points="533.7,540.0 567.7,520.4 567.7,559.6"/>
<polygon points="560.6,532.0 594.7,512.4 594.7,551.6"/>
<polygon points="587.5,536.0 621.6,516.4 621.6,555.6"/>
<polygon points="614.5,525.5 648.5,505.9 648.5,545.1"/>
<polygon points="641.4,540.0 675.5,520.4 675.5,559.6"/>
<polygon points="668.3,540.0 702.4,520.4 702.4,559.6"/>
<polygon points="695.3,541.5 729.3,521.9 729.3,561.1"/>
<polygon points="722.2,529.5 756.3,509.9 756.3,549.1"/>
<polygon points="749.1,539.0 783.2,519.4 783.2,558.6"/>
<polygon points="776.1,557.0 810.1,537.4 810.1,576.6"/>
<polygon points="803.0,595.5 837.0,575.9 837.0,615.1"/>
<polygon points="829.9,650.0 864.0,630.4 864.0,669.6"/>
<polygon points="856.9,684.0 890.9,664.4 890.9,703.6"/>
<polygon points="883.8,709.4 917.8,689.8 917.8,729.0"/>
<polygon points="910.7,723.5 944.8,703.9 944.8,743.1"/>
<polygon points="937.6,766.6 971.7,747.0 971.7,786.2"/>
<polygon points="964.6,758.1 998.6,738.5 998.6,777.8"/>
<polygon points="991.5,789.5 1025.5,769.9 1025.5,809.1"/>
<polygon points="1018.4,754.4 1052.5,734.8 1052.5,774.0"/>
<polygon points="1045.4,710.2 1079.4,690.6 1079.4,729.9"/>
<polygon points="1072.3,698.5 1106.3,678.9 1106.3,718.1"/>
<polygon points="1099.2,694.4 1133.3,674.8 1133.3,714.0"/>
<polygon points="1126.2,689.5 1160.2,669.9 1160.2,709.1"/>
<polygon points="1153.1,676.5 1187.1,656.9 1187.1,696.1"/>
<polygon points="1180.0,665.8 1214.1,646.1 1214.1,685.4"/>
<polygon points="1206.9,653.8 1241.0,634.1 1241.0,673.4"/>
<polygon points="1233.9,647.6 1267.9,628.0 1267.9,667.2"/>
<polygon points="1260.8,628.0 1294.8,608.4 1294.8,647.6"/>
<polygon points="1287.7,608.7 1321.8,589.1 1321.8,628.4"/>
<polygon points="1314.7,595.9 1348.7,576.2 1348.7,615.5"/>
<polygon points="1341.6,575.4 1375.6,555.8 1375.6,595.0"/>
<polygon points="1368.5,566.2 1402.6,546.6 1402.6,585.9"/>
<polygon points="1395.5,543.9 1429.5,524.2 1429.5,563.5"/>
<polygon points="1422.4,541.4 1456.4,521.8 1456.4,561.0"/>
<polygon points="1449.3,543.9 1483.4,524.2 1483.4,563.5"/>
<polygon points="1476.2,540.5 1510.3,520.9 1510.3,560.1"/>
<polygon points="1503.2,536.2 1537.2,516.6 1537.2,555.9"/>
<polygon points="1530.1,532.0 1564.2,512.4 1564.2,551.6"/>
<polygon points="1557.0,529.4 1591.1,509.8 1591.1,549.0"/>
<polygon points="1584.0,525.1 1618.0,505.5 1618.0,544.8"/>
<polygon points="1610.9,521.7 1644.9,502.1 1644.9,541.4"/>
<polygon points="1637.8,519.7 1671.9,500.1 1671.9,539.4"/>
<polygon points="1664.8,519.7 1698.8,500.1 1698.8,539.4"/>
<polygon points="1691.7,510.9 1725.7,491.2 1725.7,530.5"/>
<polygon points="1718.6,514.4 1752.7,494.8 1752.7,534.0"/>
<polygon points="1745.5,513.5 1779.6,493.9 1779.6,533.1"/>
<polygon points="1772.5,510.9 1806.5,491.2 1806.5,530.5"/>
<polygon points="1799.4,511.1 1833.4,491.5 1833.4,530.8"/>
</g>
<g fill="#00CBCC">
<polygon points="229.0,517.0 195.0,497.4 195.0,536.6"/>
<polygon points="255.9,517.5 221.9,497.9 221.9,537.1"/>
<polygon points="282.9,517.5 248.8,497.9 248.8,537.1"/>
<polygon points="309.8,517.5 275.7,497.9 275.7,537.1"/>
<polygon points="336.7,514.9 302.7,495.2 302.7,534.5"/>
<polygon points="363.7,515.6 329.6,496.0 329.6,535.2"/>
<polygon points="390.6,517.5 356.5,497.9 356.5,537.1"/>
<polygon points="417.5,525.9 383.5,506.2 383.5,545.5"/>
<polygon points="444.4,533.7 410.4,514.1 410.4,553.4"/>
<polygon points="471.4,538.8 437.3,519.1 437.3,558.4"/>
<polygon points="498.3,534.7 464.2,515.1 464.2,554.4"/>
<polygon points="525.2,539.0 491.2,519.4 491.2,558.6"/>
<polygon points="552.2,535.1 518.1,515.5 518.1,554.8"/>
<polygon points="579.1,532.6 545.0,513.0 545.0,552.2"/>
<polygon points="606.0,528.7 572.0,509.1 572.0,548.4"/>
<polygon points="633.0,518.8 598.9,499.1 598.9,538.4"/>
<polygon points="659.9,523.6 625.8,504.0 625.8,543.2"/>
<polygon points="686.8,527.8 652.8,508.1 652.8,547.4"/>
<polygon points="713.7,528.6 679.7,509.0 679.7,548.2"/>
<polygon points="740.7,537.2 706.6,517.6 706.6,556.9"/>
<polygon points="767.6,543.2 733.6,523.6 733.6,562.9"/>
<polygon points="794.5,556.0 760.5,536.4 760.5,575.6"/>
<polygon points="821.5,566.2 787.4,546.6 787.4,585.9"/>
<polygon points="848.4,589.0 814.3,569.4 814.3,608.6"/>
<polygon points="875.3,633.0 841.3,613.4 841.3,652.6"/>
<polygon points="902.3,722.4 868.2,702.8 868.2,742.0"/>
<polygon points="929.2,861.9 895.1,842.2 895.1,881.5"/>
<polygon points="956.1,940.3 922.1,920.6 922.1,959.9"/>
<polygon points="983.0,982.1 949.0,962.5 949.0,1001.8"/>
<polygon points="1010.0,1030.6 975.9,1010.9 975.9,1050.2"/>
<polygon points="1036.9,1056.9 1002.9,1037.2 1002.9,1076.6"/>
<polygon points="1063.8,1040.3 1029.8,1020.6 1029.8,1060.0"/>
<polygon points="1090.8,1022.7 1056.7,1003.1 1056.7,1042.4"/>
<polygon points="1117.7,932.8 1083.6,913.1 1083.6,952.4"/>
<polygon points="1144.6,896.0 1110.6,876.4 1110.6,915.6"/>
<polygon points="1171.6,781.2 1137.5,761.6 1137.5,800.9"/>
<polygon points="1198.5,690.8 1164.4,671.1 1164.4,710.4"/>
<polygon points="1225.4,629.4 1191.4,609.8 1191.4,649.0"/>
<polygon points="1252.3,587.8 1218.3,568.1 1218.3,607.4"/>
<polygon points="1279.3,565.0 1245.2,545.4 1245.2,584.6"/>
<polygon points="1306.2,549.9 1272.2,530.2 1272.2,569.5"/>
<polygon points="1333.1,548.2 1299.1,528.6 1299.1,567.9"/>
<polygon points="1360.1,539.7 1326.0,520.1 1326.0,559.4"/>
<polygon points="1387.0,532.8 1352.9,513.1 1352.9,552.4"/>
<polygon points="1413.9,526.8 1379.9,507.1 1379.9,546.4"/>
<polygon points="1440.9,519.1 1406.8,499.5 1406.8,538.8"/>
<polygon points="1467.8,523.4 1433.7,503.8 1433.7,543.0"/>
<polygon points="1494.7,524.3 1460.7,504.6 1460.7,543.9"/>
<polygon points="1521.6,524.3 1487.6,504.6 1487.6,543.9"/>
<polygon points="1548.6,526.0 1514.5,506.4 1514.5,545.6"/>
<polygon points="1575.5,527.7 1541.5,508.1 1541.5,547.4"/>
<polygon points="1602.4,533.7 1568.4,514.1 1568.4,553.4"/>
<polygon points="1629.4,535.4 1595.3,515.8 1595.3,555.0"/>
<polygon points="1656.3,543.1 1622.2,523.5 1622.2,562.8"/>
<polygon points="1683.2,550.3 1649.2,530.6 1649.2,569.9"/>
<polygon points="1710.2,555.0 1676.1,535.4 1676.1,574.6"/>
<polygon points="1737.1,562.7 1703.0,543.1 1703.0,582.4"/>
<polygon points="1764.0,565.3 1730.0,545.6 1730.0,584.9"/>
<polygon points="1790.9,569.2 1756.9,549.6 1756.9,588.9"/>
<polygon points="1817.9,569.2 1783.8,549.6 1783.8,588.9"/>
<polygon points="1844.8,569.2 1810.8,549.6 1810.8,588.9"/>
</g>
<g fill="#7D4E4E">
<polygon points="206.3,508.0 221.9,517.0 221.9,535.0 206.3,544.0 190.7,535.0 190.7,517.0"/>
<polygon points="233.2,509.3 248.8,518.3 248.8,536.3 233.2,545.3 217.6,536.3 217.6,518.3"/>
<polygon points="260.2,505.5 275.7,514.5 275.7,532.5 260.2,541.5 244.6,532.5 244.6,514.5"/>
<polygon points="287.1,505.5 302.7,514.5 302.7,532.5 287.1,541.5 271.5,532.5 271.5,514.5"/>
<polygon points="314.0,503.5 329.6,512.5 329.6,530.5 314.0,539.5 298.4,530.5 298.4,512.5"/>
<polygon points="341.0,505.2 356.5,514.2 356.5,532.2 341.0,541.2 325.4,532.2 325.4,514.2"/>
<polygon points="367.9,503.5 383.5,512.5 383.5,530.5 367.9,539.5 352.3,530.5 352.3,512.5"/>
<polygon points="394.8,509.0 410.4,518.0 410.4,536.0 394.8,545.0 379.2,536.0 379.2,518.0"/>
<polygon points="421.7,510.0 437.3,519.0 437.3,537.0 421.7,546.0 406.2,537.0 406.2,519.0"/>
<polygon points="448.7,516.7 464.3,525.7 464.3,543.7 448.7,552.7 433.1,543.7 433.1,525.7"/>
<polygon points="475.6,525.1 491.2,534.1 491.2,552.1 475.6,561.1 460.0,552.1 460.0,534.1"/>
<polygon points="502.5,534.0 518.1,543.0 518.1,561.0 502.5,570.0 486.9,561.0 486.9,543.0"/>
<polygon points="529.5,543.7 545.0,552.7 545.0,570.7 529.5,579.7 513.9,570.7 513.9,552.7"/>
<polygon points="556.4,543.7 572.0,552.7 572.0,570.7 556.4,579.7 540.8,570.7 540.8,552.7"/>
<polygon points="583.3,543.7 598.9,552.7 598.9,570.7 583.3,579.7 567.7,570.7 567.7,552.7"/>
<polygon points="610.2,568.5 625.8,577.5 625.8,595.5 610.2,604.5 594.7,595.5 594.7,577.5"/>
<polygon points="637.2,520.0 652.8,529.0 652.8,547.0 637.2,556.0 621.6,547.0 621.6,529.0"/>
<polygon points="664.1,513.2 679.7,522.2 679.7,540.2 664.1,549.2 648.5,540.2 648.5,522.2"/>
<polygon points="691.0,522.6 706.6,531.6 706.6,549.6 691.0,558.6 675.5,549.6 675.5,531.6"/>
<polygon points="718.0,581.0 733.6,590.0 733.6,608.0 718.0,617.0 702.4,608.0 702.4,590.0"/>
<polygon points="744.9,638.8 760.5,647.8 760.5,665.8 744.9,674.8 729.3,665.8 729.3,647.8"/>
<polygon points="771.8,698.6 787.4,707.6 787.4,725.6 771.8,734.6 756.2,725.6 756.2,707.6"/>
<polygon points="798.8,745.0 814.3,754.0 814.3,772.0 798.8,781.0 783.2,772.0 783.2,754.0"/>
<polygon points="825.7,774.9 841.3,783.9 841.3,801.9 825.7,810.9 810.1,801.9 810.1,783.9"/>
<polygon points="852.6,884.4 868.2,893.4 868.2,911.4 852.6,920.4 837.0,911.4 837.0,893.4"/>
<polygon points="879.6,951.3 895.1,960.3 895.1,978.3 879.6,987.3 864.0,978.3 864.0,960.3"/>
<polygon points="906.5,981.0 922.1,990.0 922.1,1008.0 906.5,1017.0 890.9,1008.0 890.9,990.0"/>
<polygon points="933.4,1051.1 949.0,1060.1 949.0,1078.1 933.4,1087.1 917.8,1078.1 917.8,1060.1"/>
<polygon points="960.3,1078.2 975.9,1087.2 975.9,1105.2 960.3,1114.2 944.8,1105.2 944.8,1087.2"/>
<polygon points="987.3,1136.6 1002.9,1145.6 1002.9,1163.6 987.3,1172.6 971.7,1163.6 971.7,1145.6"/>
<polygon points="1014.2,1160.1 1029.8,1169.1 1029.8,1187.1 1014.2,1196.1 998.6,1187.1 998.6,1169.1"/>
<polygon points="1041.1,1133.4 1056.7,1142.4 1056.7,1160.4 1041.1,1169.4 1025.5,1160.4 1025.5,1142.4"/>
<polygon points="1068.1,1077.8 1083.6,1086.8 1083.6,1104.8 1068.1,1113.8 1052.5,1104.8 1052.5,1086.8"/>
<polygon points="1095.0,1031.9 1110.6,1040.9 1110.6,1058.9 1095.0,1067.9 1079.4,1058.9 1079.4,1040.9"/>
<polygon points="1121.9,977.0 1137.5,986.0 1137.5,1004.0 1121.9,1013.0 1106.3,1004.0 1106.3,986.0"/>
<polygon points="1148.9,914.4 1164.4,923.4 1164.4,941.4 1148.9,950.4 1133.3,941.4 1133.3,923.4"/>
<polygon points="1175.8,784.5 1191.4,793.5 1191.4,811.5 1175.8,820.5 1160.2,811.5 1160.2,793.5"/>
<polygon points="1202.7,715.1 1218.3,724.1 1218.3,742.1 1202.7,751.1 1187.1,742.1 1187.1,724.1"/>
<polygon points="1229.6,559.3 1245.2,568.3 1245.2,586.3 1229.6,595.3 1214.1,586.3 1214.1,568.3"/>
<polygon points="1256.6,628.5 1272.2,637.5 1272.2,655.5 1256.6,664.5 1241.0,655.5 1241.0,637.5"/>
<polygon points="1283.5,594.4 1299.1,603.4 1299.1,621.4 1283.5,630.4 1267.9,621.4 1267.9,603.4"/>
<polygon points="1310.4,553.6 1326.0,562.6 1326.0,580.6 1310.4,589.6 1294.8,580.6 1294.8,562.6"/>
<polygon points="1337.4,509.9 1352.9,518.9 1352.9,536.9 1337.4,545.9 1321.8,536.9 1321.8,518.9"/>
<polygon points="1364.3,509.9 1379.9,518.9 1379.9,536.9 1364.3,545.9 1348.7,536.9 1348.7,518.9"/>
<polygon points="1391.2,509.9 1406.8,518.9 1406.8,536.9 1391.2,545.9 1375.6,536.9 1375.6,518.9"/>
<polygon points="1418.2,511.6 1433.7,520.6 1433.7,538.6 1418.2,547.6 1402.6,538.6 1402.6,520.6"/>
<polygon points="1445.1,510.7 1460.7,519.7 1460.7,537.7 1445.1,546.7 1429.5,537.7 1429.5,519.7"/>
<polygon points="1472.0,509.9 1487.6,518.9 1487.6,536.9 1472.0,545.9 1456.4,536.9 1456.4,518.9"/>
<polygon points="1498.9,509.0 1514.5,518.0 1514.5,536.0 1498.9,545.0 1483.4,536.0 1483.4,518.0"/>
<polygon points="1525.9,501.3 1541.5,510.3 1541.5,528.3 1525.9,537.3 1510.3,528.3 1510.3,510.3"/>
<polygon points="1552.8,496.5 1568.4,505.5 1568.4,523.5 1552.8,532.5 1537.2,523.5 1537.2,505.5"/>
<polygon points="1579.7,496.5 1595.3,505.5 1595.3,523.5 1579.7,532.5 1564.1,523.5 1564.1,505.5"/>
<polygon points="1606.7,501.3 1622.2,510.3 1622.2,528.3 1606.7,537.3 1591.1,528.3 1591.1,510.3"/>
<polygon points="1633.6,504.7 1649.2,513.7 1649.2,531.7 1633.6,540.7 1618.0,531.7 1618.0,513.7"/>
<polygon points="1660.5,509.9 1676.1,518.9 1676.1,536.9 1660.5,545.9 1644.9,536.9 1644.9,518.9"/>
<polygon points="1687.5,511.6 1703.0,520.6 1703.0,538.6 1687.5,547.6 1671.9,538.6 1671.9,520.6"/>
<polygon points="1714.4,516.7 1730.0,525.7 1730.0,543.7 1714.4,552.7 1698.8,543.7 1698.8,525.7"/>
<polygon points="1741.3,512.8 1756.9,521.8 1756.9,539.8 1741.3,548.8 1725.7,539.8 1725.7,521.8"/>
<polygon points="1768.2,525.2 1783.8,534.2 1783.8,552.2 1768.2,561.2 1752.7,552.2 1752.7,534.2"/>
<polygon points="1795.2,527.8 1810.8,536.8 1810.8,554.8 1795.2,563.8 1779.6,554.8 1779.6,536.8"/>
<polygon points="1822.1,528.7 1837.7,537.7 1837.7,555.7 1822.1,564.7 1806.5,555.7 1806.5,537.7"/>
</g>
</g>
<rect x="1822.9" y="525.1" width="4.1" height="29.7" fill="#515151" shape-rendering="crispEdges"/>
<g stroke-width="6.7" stroke-linecap="round" shape-rendering="geometricPrecision">
<line x1="357.3" x2="483.7" y1="685.5" y2="685.5" stroke="#515151"/>
<line x1="357.3" x2="483.7" y1="755.5" y2="755.5" stroke="#F14040"/>
<line x1="357.3" x2="483.7" y1="825.6" y2="825.6" stroke="#1A6FDF"/>
<line x1="357.3" x2="483.7" y1="895.6" y2="895.6" stroke="#37AD6B"/>
<line x1="357.3" x2="483.7" y1="965.7" y2="965.7" stroke="#B177DE"/>
<line x1="357.3" x2="483.7" y1="1035.8" y2="1035.8" stroke="#CC9900"/>
<line x1="357.3" x2="483.7" y1="1105.8" y2="1105.8" stroke="#00CBCC"/>
<line x1="357.3" x2="483.7" y1="1175.8" y2="1175.8" stroke="#7D4E4E"/>
</g>
<g font-size="54">
<text x="497.5" y="703.9" letter-spacing="1.2">S0</text>
<text x="1583.3" y="717.2" letter-spacing="1.5">S0</text>
<text x="497.5" y="773.9" letter-spacing="1.2">S1</text>
<text x="1583.3" y="787.2" letter-spacing="1.5">S1</text>
<text x="497.5" y="843.9" letter-spacing="1.2">S2</text>
<text x="1583.3" y="857.2" letter-spacing="1.5">S2</text>
<text x="497.5" y="913.9" letter-spacing="1.2">S3</text>
<text x="1583.3" y="927.2" letter-spacing="1.5">S3</text>
<text x="497.5" y="983.9" letter-spacing="1.2">S4</text>
<text x="1583.3" y="997.2" letter-spacing="1.5">S4</text>
<text x="497.5" y="1053.9" letter-spacing="1.2">S5</text>
<text x="1583.3" y="1067.2" letter-spacing="1.5">S5</text>
<text x="497.5" y="1123.9" letter-spacing="1.2">S6</text>
<text x="1583.3" y="1137.2" letter-spacing="1.5">S6</text>
<text x="497.5" y="1193.9" letter-spacing="1.2">S7</text>
<text x="1583.3" y="1207.2" letter-spacing="1.5">S7</text>
</g>
<g fill="#515151"><rect x="1491.2" y="684.2" width="29.5" height="29.5"/></g>
<g fill="#F14040"><circle cx="1503.6" cy="767.3" r="16.5"/></g>
<g fill="#1A6FDF"><polygon points="1503.5,814.8 1483.8,848.9 1523.2,848.9"/></g>
<g fill="#37AD6B"><polygon points="1503.5,929.9 1483.8,895.9 1523.2,895.9"/></g>
<g fill="#B177DE"><polygon points="1503.3,956.8 1523.8,977.3 1503.3,997.8 1482.8,977.3"/></g>
<g fill="#CC9900"><polygon points="1481.1,1047.4 1515.1,1027.8 1515.1,1067.1"/></g>
<g fill="#00CBCC"><polygon points="1526.0,1117.1 1492.0,1097.4 1492.0,1136.8"/></g>
<g fill="#7D4E4E"><polygon points="1503.5,1169.0 1519.1,1178.0 1519.1,1196.0 1503.5,1205.0 1487.9,1196.0 1487.9,1178.0"/></g>
<g shape-rendering="crispEdges">
<rect x="1288.5" y="99.4" width="359.2" height="286.9" fill="#fff" stroke="#000" stroke-width="1"/>
<g stroke="#000" stroke-width="1">
<line x1="1285.8" x2="1288.5" y1="386.3" y2="386.3"/>
<line x1="1283.0" x2="1288.5" y1="363.3" y2="363.3"/>
<line x1="1285.8" x2="1288.5" y1="340.3" y2="340.3"/>
<line x1="1283.0" x2="1288.5" y1="317.3" y2="317.3"/>
<line x1="1285.8" x2="1288.5" y1="294.3" y2="294.3"/>
<line x1="1283.0" x2="1288.5" y1="271.3" y2="271.3"/>
<line x1="1285.8" x2="1288.5" y1="248.3" y2="248.3"/>
<line x1="1283.0" x2="1288.5" y1="225.3" y2="225.3"/>
<line x1="1285.8" x2="1288.5" y1="202.3" y2="202.3"/>
<line x1="1283.0" x2="1288.5" y1="179.3" y2="179.3"/>
<line x1="1285.8" x2="1288.5" y1="156.3" y2="156.3"/>
<line x1="1283.0" x2="1288.5" y1="133.3" y2="133.3"/>
<line x1="1285.8" x2="1288.5" y1="110.3" y2="110.3"/>
<line x1="1288.4" x2="1288.4" y1="386.3" y2="392.8"/>
<line x1="1328.3" x2="1328.3" y1="386.3" y2="392.8"/>
<line x1="1368.2" x2="1368.2" y1="386.3" y2="392.8"/>
<line x1="1408.0" x2="1408.0" y1="386.3" y2="392.8"/>
<line x1="1447.9" x2="1447.9" y1="386.3" y2="392.8"/>
<line x1="1487.7" x2="1487.7" y1="386.3" y2="392.8"/>
<line x1="1527.6" x2="1527.6" y1="386.3" y2="392.8"/>
<line x1="1567.5" x2="1567.5" y1="386.3" y2="392.8"/>
<line x1="1607.3" x2="1607.3" y1="386.3" y2="392.8"/>
<line x1="1647.2" x2="1647.2" y1="386.3" y2="392.8"/>
</g></g>
<g font-size="24" text-anchor="end">
<text x="1278.6" y="140.8">24</text>
<text x="1278.6" y="186.8">16</text>
<text x="1278.6" y="232.8">8</text>
<text x="1278.6" y="278.8">0</text>
<text x="1278.6" y="324.8">-8</text>
<text x="1278.6" y="370.8">-16</text>
</g>
<g font-size="24" text-anchor="middle" letter-spacing="1">
<text x="1329.3" y="415.2">S0</text>
<text x="1369.2" y="415.2">S1</text>
<text x="1409.0" y="415.2">S2</text>
<text x="1448.9" y="415.2">S3</text>
<text x="1488.7" y="415.2">S4</text>
<text x="1528.6" y="415.2">S5</text>
<text x="1568.5" y="415.2">S6</text>
<text x="1608.3" y="415.2">S7</text>
</g>
<g clip-path="url(#cs)"><text font-size="24" text-anchor="middle" x="1468.4" y="453.1" textLength="77.5" lengthAdjust="spacing">Sample</text></g>
<text font-size="24" text-anchor="middle" transform="translate(1237.6 242.2) rotate(-90)" textLength="127.5" lengthAdjust="spacing">β (10<tspan font-size="15" dy="-11">−7</tspan><tspan dy="11"> m/W)</tspan></text>
<polyline points="1328.3,310.5 1368.2,323.0 1408.0,354.9 1447.9,341.8 1487.7,278.7 1527.6,230.5 1567.5,156.2 1607.3,121.3" fill="none" stroke="#FF0000" stroke-width="1.5"/>
<g fill="#FF0000">
<rect x="1323.8" y="306.0" width="9" height="9"/>
<rect x="1363.7" y="318.5" width="9" height="9"/>
<rect x="1403.5" y="350.4" width="9" height="9"/>
<rect x="1443.4" y="337.3" width="9" height="9"/>
<rect x="1483.2" y="274.2" width="9" height="9"/>
<rect x="1523.1" y="226.0" width="9" height="9"/>
<rect x="1563.0" y="151.7" width="9" height="9"/>
<rect x="1602.8" y="116.8" width="9" height="9"/>
</g>
</svg></body></html>
